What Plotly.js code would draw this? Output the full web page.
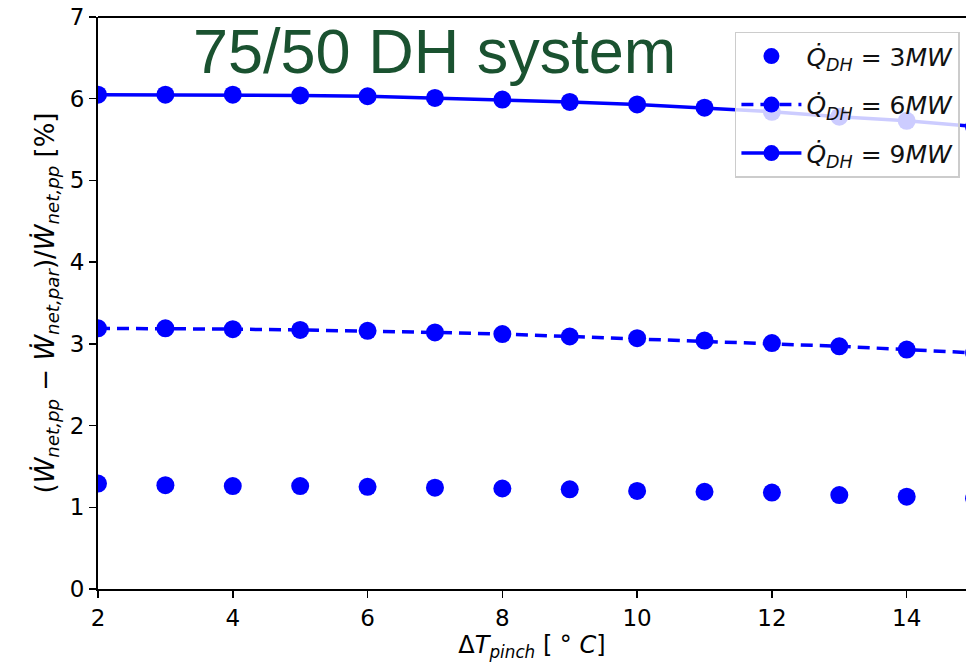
<!DOCTYPE html>
<html>
<head>
<meta charset="utf-8">
<script src="https://cdn.plot.ly/plotly-3.0.1.min.js"></script>
<style>html,body{margin:0;padding:0;background:#fff;}#chart{width:966px;height:671px;}</style>
</head>
<body>
<div id="chart"></div>
<script>
const pinch = [2, 3, 4, 5, 6, 7, 8, 9, 10, 11, 12, 13, 14, 15];
const q3 = [1.29, 1.27, 1.26, 1.26, 1.25, 1.24, 1.23, 1.22, 1.20, 1.19, 1.18, 1.15, 1.13, 1.11];
const q6 = [3.19, 3.19, 3.18, 3.17, 3.16, 3.14, 3.12, 3.09, 3.07, 3.04, 3.01, 2.97, 2.93, 2.89];
const q9 = [6.05, 6.05, 6.05, 6.04, 6.03, 6.01, 5.99, 5.96, 5.93, 5.89, 5.84, 5.78, 5.73, 5.66];
const seriesNames = [
  "<i>Q\u0307</i><sub><i>DH</i></sub> = 3<i>MW</i>",
  "<i>Q\u0307</i><sub><i>DH</i></sub> = 6<i>MW</i>",
  "<i>Q\u0307</i><sub><i>DH</i></sub> = 9<i>MW</i>"
];
const blue = "#0000ff";
const font = "DejaVu Sans, sans-serif";

const traces = [
  {x: pinch, y: q3, name: seriesNames[0], legendgroup: "a", mode: "markers", type: "scatter",
   marker: {color: blue, size: 18}},
  {x: pinch, y: q6, name: seriesNames[1], legendgroup: "b", mode: "lines+markers", type: "scatter",
   line: {color: blue, width: 3.5, dash: "12px,7px"}, marker: {color: blue, size: 18}},
  {x: pinch, y: q9, name: seriesNames[2], legendgroup: "c", mode: "lines+markers", type: "scatter",
   line: {color: blue, width: 3.5}, marker: {color: blue, size: 18}}
];

const layout = {
  width: 966, height: 671,
  margin: {l: 98, r: 0, t: 17, b: 82},
  paper_bgcolor: "#fff", plot_bgcolor: "#fff",
  font: {family: font, size: 23, color: "#000"},
  showlegend: true,
  xaxis: {
    range: [2, 14.88], tickvals: [2, 4, 6, 8, 10, 12, 14],
    showgrid: false, zeroline: false, showline: true, linecolor: "#000", linewidth: 2,
    ticks: "outside", ticklen: 7, tickwidth: 1.5, tickcolor: "#000",
    tickfont: {family: font, size: 23, color: "#000"},
    title: {text: "\u0394<i>T</i><sub><i>pinch</i></sub> [ \u00b0 <i>C</i>]", font: {family: font, size: 24, color: "#000"}, standoff: 6}
  },
  yaxis: {
    range: [0, 7], tickvals: [0, 1, 2, 3, 4, 5, 6, 7],
    showgrid: false, zeroline: false, showline: true, linecolor: "#000", linewidth: 2,
    ticks: "outside", ticklen: 7, tickwidth: 1.5, tickcolor: "#000",
    tickfont: {family: font, size: 23, color: "#000"},
    title: {text: "(<i>W\u0307</i><sub><i>net,pp</i></sub> \u2212 <i>W\u0307</i><sub><i>net,par</i></sub>)/<i>W\u0307</i><sub><i>net,pp</i></sub> [%]", font: {family: font, size: 26, color: "#000"}, standoff: 8}
  },
  legend: {
    x: 0.993, y: 0.974, xanchor: "right", yanchor: "top",
    bgcolor: "rgba(255,255,255,0.8)", bordercolor: "#cccccc", borderwidth: 1.5,
    font: {family: font, size: 25, color: "#111"}, itemwidth: 60, tracegroupgap: 13
  },
  shapes: [
    {type: "line", xref: "paper", yref: "paper", x0: 0, x1: 1, y0: 1, y1: 1,
     line: {color: "#000", width: 2}}
  ],
  annotations: [
    {text: "75/50 DH system", xref: "paper", yref: "paper", x: 0.388, y: 0.94,
     xanchor: "center", yanchor: "middle", showarrow: false,
     font: {family: "Liberation Sans, Arial, sans-serif", size: 63, color: "#1a5230"}}
  ]
};

Plotly.newPlot("chart", traces, layout, {displayModeBar: false, staticPlot: true});
</script>
</body>
</html>
